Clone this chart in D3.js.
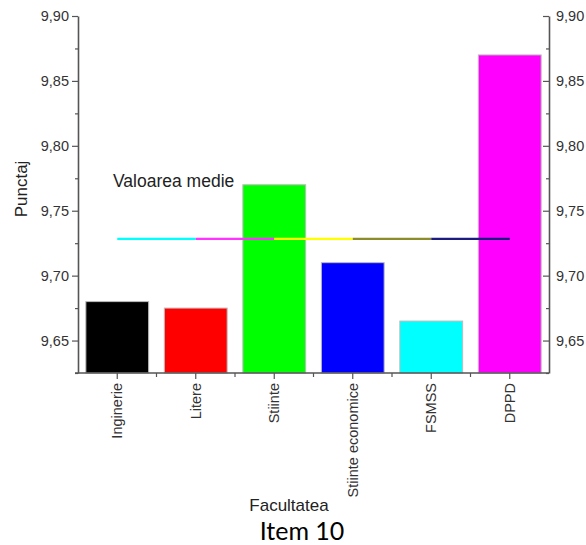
<!DOCTYPE html>
<html><head><meta charset="utf-8">
<script src="https://cdn.jsdelivr.net/npm/d3@7"></script>
<style>body{margin:0;background:#fff}svg{display:block}</style>
</head><body>
<script>
const categories = ["Inginerie","Litere","Stiinte","Stiinte economice","FSMSS","DPPD"];
const values = [9.68, 9.675, 9.77, 9.71, 9.665, 9.87];
const barColors = ["#000000","#ff0000","#00ff00","#0000ff","#00ffff","#ff00ff"];
const meanSegColors = ["#00ffff","#ff33ff","#ffff00","#8c8c2a","#1c1c80"];
const yTicks = [9.65, 9.70, 9.75, 9.80, 9.85, 9.90];
const yMinor = [9.625, 9.675, 9.725, 9.775, 9.825, 9.875];

(function(){
const W = 586, H = 545;
const mLeft = 78, mRight = 549, mTop = 16, mBottom = 373;
const svg = d3.select("body").append("svg").attr("width", W).attr("height", H);

const x = d3.scaleBand().domain(categories).range([mLeft, mRight]).paddingInner(0.2).paddingOuter(0.1);
const y = d3.scaleLinear().domain([9.625, 9.90]).range([mBottom, mTop]);
const fmt = d => d.toFixed(2).replace(".", ",");
const axisColor = "#555";
const font = "Liberation Sans, Arial, sans-serif";

// bars
svg.selectAll("rect.bar").data(values).join("rect")
  .attr("class","bar")
  .attr("x",(d,i)=>x(categories[i]))
  .attr("width",x.bandwidth())
  .attr("y",d=>y(d))
  .attr("height",d=>mBottom - y(d))
  .attr("fill",(d,i)=>barColors[i])
  .attr("stroke","#bbb").attr("stroke-width",1);

// mean line
const mean = d3.mean(values);
const cx = c => x(c) + x.bandwidth()/2;
svg.selectAll("line.mean").data(meanSegColors).join("line")
  .attr("class","mean")
  .attr("x1",(d,i)=>cx(categories[i]))
  .attr("x2",(d,i)=>cx(categories[i+1]))
  .attr("y1",y(mean)).attr("y2",y(mean))
  .attr("stroke",d=>d).attr("stroke-width",2.2);

svg.append("text").attr("x",113).attr("y",187)
  .attr("font-family",font).attr("font-size",17.5).attr("fill","#222")
  .text("Valoarea medie");

// left axis
const gl = svg.append("g").attr("transform",`translate(${mLeft},0)`)
  .call(d3.axisLeft(y).tickValues(yTicks).tickFormat(fmt).tickSize(6).tickSizeOuter(0));
gl.append("g").call(d3.axisLeft(y).tickValues(yMinor).tickFormat("").tickSize(3).tickSizeOuter(0))
  .select(".domain").remove();
// right axis (ticks inward)
const gr = svg.append("g").attr("transform",`translate(${mRight},0)`)
  .call(d3.axisRight(y).tickValues(yTicks).tickFormat(fmt).tickSize(0).tickPadding(7).tickSizeOuter(0));
gr.selectAll(".tick line").attr("x2",-6);
gr.append("g").call(d3.axisLeft(y).tickValues(yMinor).tickFormat("").tickSize(3).tickSizeOuter(0))
  .select(".domain").remove();
// bottom axis
const gb = svg.append("g").attr("transform",`translate(0,${mBottom})`)
  .call(d3.axisBottom(x).tickSize(6).tickSizeOuter(0));
gb.select(".domain").attr("d",`M${mLeft-3},0H${mRight}`);
const bounds = categories.slice(1).map(c => x(c) - x.step()*x.paddingInner()/2);
gb.selectAll("line.minor").data(bounds).join("line").attr("class","minor")
  .attr("x1",d=>d).attr("x2",d=>d).attr("y1",0).attr("y2",4);

[gl,gr,gb].forEach(g=>{
  g.selectAll(".domain").attr("stroke",axisColor).attr("stroke-width",1.6);
  g.selectAll("line").attr("stroke",axisColor).attr("stroke-width",1.2);
  g.selectAll("text").attr("font-family",font).attr("font-size",14.5).attr("fill","#333");
});
gl.selectAll(".tick text").attr("x",-9);
gb.selectAll(".tick text")
  .attr("transform","rotate(-90)")
  .attr("text-anchor","end").attr("x",-10).attr("y",0).attr("dy","0.35em");

// axis titles
svg.append("text").attr("transform","translate(27,189) rotate(-90)")
  .attr("text-anchor","middle").attr("font-family",font).attr("font-size",17).attr("fill","#222")
  .text("Punctaj");
svg.append("text").attr("x",289).attr("y",511).attr("text-anchor","middle")
  .attr("font-family",font).attr("font-size",17).attr("fill","#222").text("Facultatea");
svg.append("text").attr("x",302).attr("y",540).attr("text-anchor","middle")
  .attr("font-family","Lato, Open Sans, sans-serif").attr("font-size",25).attr("fill","#000").text("Item 10");
})();
</script>
</body></html>
